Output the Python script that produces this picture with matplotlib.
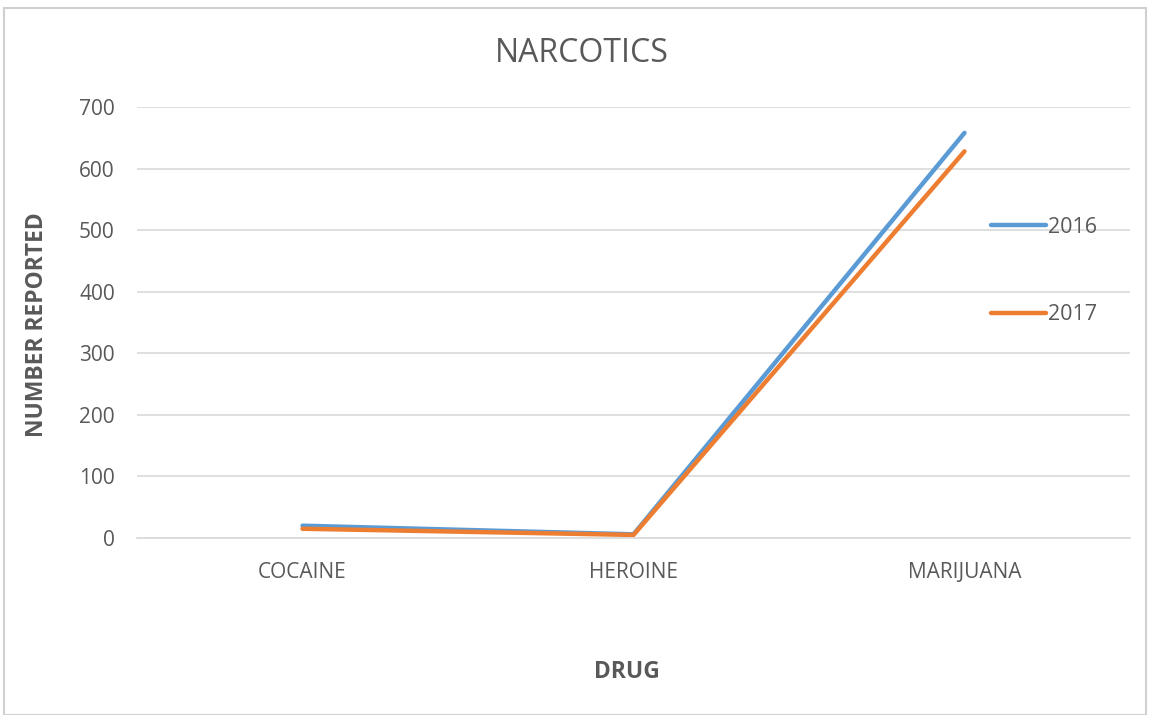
import matplotlib
matplotlib.use("Agg")
import matplotlib.pyplot as plt
from matplotlib.patches import Rectangle

categories = ["COCAINE", "HEROINE", "MARIJUANA"]
series_2016 = [20, 6, 658]
series_2017 = [15, 5, 628]
series_labels = ["2016", "2017"]
yticks = [0, 100, 200, 300, 400, 500, 600, 700]

plt.rcParams['font.family'] = ['Open Sans', 'DejaVu Sans']
W, H = 1153, 715
fig = plt.figure(figsize=(W/100, H/100), dpi=100)
fig.patch.set_facecolor("white")
fig.add_artist(Rectangle((4/W, 0), (1146-4)/W, 1 - 8/H, transform=fig.transFigure,
                         fill=False, edgecolor="#d0d0d0", linewidth=1.5))

ax = fig.add_axes([137/W, 1 - 538/H, (1130-137)/W, (538-107)/H])
x = list(range(len(categories)))
ax.plot(x, series_2016, color="#5b9bd5", linewidth=3.2, solid_capstyle="round", label=series_labels[0])
ax.plot(x, series_2017, color="#ed7d31", linewidth=3.2, solid_capstyle="round", label=series_labels[1])
ax.set_xlim(-0.5, 2.5)
ax.set_ylim(0, 700)
ax.set_yticks(yticks)
ax.set_xticks(x)
ax.set_xticklabels(categories)
ax.grid(axis="y", color="#d9d9d9", linewidth=1.2)
ax.set_axisbelow(True)
for s in ["top", "right", "left"]:
    ax.spines[s].set_visible(False)
ax.spines["bottom"].set_color("#d9d9d9")
ax.spines["bottom"].set_linewidth(1.2)
ax.tick_params(axis="both", length=0, colors="#595959", labelsize=15)
ax.tick_params(axis="y", pad=16)
ax.tick_params(axis="x", pad=17)

fig.text(582/W, 1 - 53/H, "NARCOTICS", ha="center", va="center", fontsize=23, color="#595959")
fig.text(37/W, 1 - 325/H, "NUMBER REPORTED", ha="center", va="center", rotation=90,
         fontsize=16.5, fontweight="bold", color="#595959")
fig.text(627/W, 1 - 672/H, "DRUG", ha="center", va="center", fontsize=16.5,
         fontweight="bold", color="#595959")

leg = ax.legend(loc="upper left", bbox_to_anchor=((982-137)/(1130-137), (538-208)/(538-107)),
                frameon=False, fontsize=15.5, labelcolor="#595959", handlelength=2.55,
                handletextpad=0.1, labelspacing=3.1, borderaxespad=0)
fig.savefig("out.png", dpi=100)
